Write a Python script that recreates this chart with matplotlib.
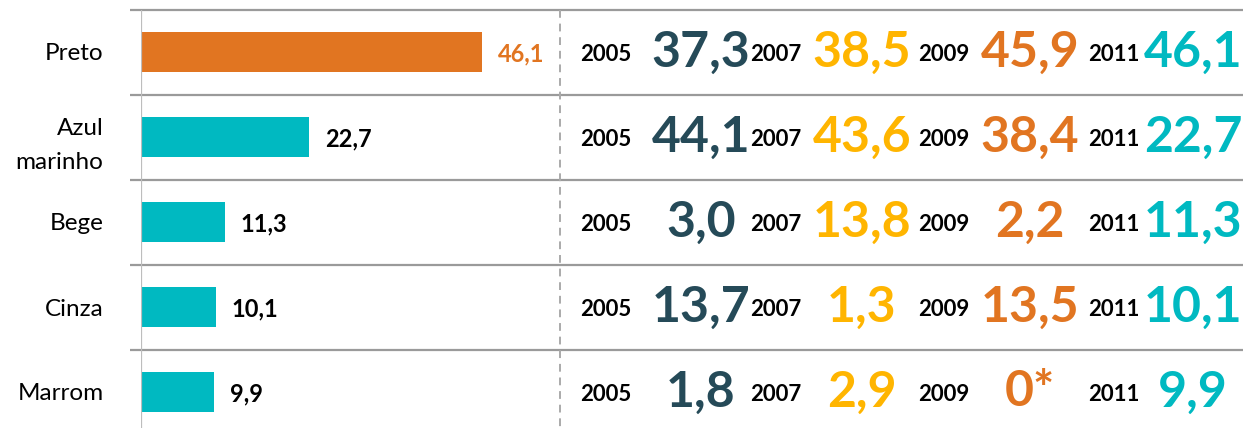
import matplotlib.pyplot as plt
from matplotlib.transforms import blended_transform_factory

plt.rcParams["font.family"] = ["Lato", "DejaVu Sans"]

# Data
categories = ["Preto", "Azul\nmarinho", "Bege", "Cinza", "Marrom"]
values_2011 = [46.1, 22.7, 11.3, 10.1, 9.9]
years = ["2005", "2007", "2009", "2011"]
table_2005 = ["37,3", "44,1", "3,0", "13,7", "1,8"]
table_2007 = ["38,5", "43,6", "13,8", "1,3", "2,9"]
table_2009 = ["45,9", "38,4", "2,2", "13,5", "0*"]
table_2011 = ["46,1", "22,7", "11,3", "10,1", "9,9"]

# Styles
ORANGE = "#E17521"
TEAL = "#00B9C1"
DARK = "#254A58"
GOLD = "#FFB500"
GRID = "#9A9A9A"
W, H = 1243, 428

fig = plt.figure(figsize=(W / 100, H / 100), dpi=100)
left = 141 / W
ax = fig.add_axes([left, 0, 1 - left, 1])
px = 7.4  # pixels per unit
ax.set_xlim(0, (W - 141) / px)
ax.set_ylim((H - 52) / 85, -52 / 85)

ypos = list(range(len(categories)))
bar_colors = [ORANGE] + [TEAL] * (len(categories) - 1)
ax.barh(ypos, values_2011, height=0.48, color=bar_colors, zorder=2)

for y, v, c in zip(ypos, values_2011, bar_colors):
    lab_color = ORANGE if c == ORANGE else "black"
    ax.text(v + 16 / px, y + 0.02, f"{v:.1f}".replace(".", ","), va="center",
            ha="left", fontsize=17, fontweight="bold", color=lab_color)

# row separators
ax.hlines([y - 0.5 for y in ypos], -11 / px, (W - 141) / px, color=GRID,
          linewidth=1.6, clip_on=False, zorder=3)
# axis line and dashed divider
ax.vlines(0, -0.5, (H - 52) / 85, color="#BDBDBD", linewidth=1.6, zorder=3)
ax.vlines((560 - 141) / px, -0.5, (H - 52) / 85, color="#AAAAAA",
          linewidth=1.4, linestyles=(0, (4, 3)), zorder=3)

ax.set_yticks(ypos)
ax.set_yticklabels(categories, fontsize=17.5, linespacing=1.75)
ax.tick_params(axis="y", length=0, pad=27)
for t in ax.get_yticklabels():
    t.set_horizontalalignment("right")
ax.set_xticks([])
for s in ax.spines.values():
    s.set_visible(False)

# right-hand table
trans = blended_transform_factory(fig.transFigure, ax.transData)
year_x = [580, 750, 918, 1088]
num_x = [701, 862, 1030, 1193]
tables = [table_2005, table_2007, table_2009, table_2011]
num_colors = [DARK, GOLD, ORANGE, TEAL]
for yr, yx, nx, tab, col in zip(years, year_x, num_x, tables, num_colors):
    for y, s in zip(ypos, tab):
        ax.text(yx / W, y + 0.03, yr, transform=trans, ha="left", va="center",
                fontsize=16, fontweight="bold", color="black")
        ax.text(nx / W, y, s, transform=trans, ha="center", va="center",
                fontsize=36, fontweight="bold", color=col)

fig.savefig("out.png", dpi=100)
